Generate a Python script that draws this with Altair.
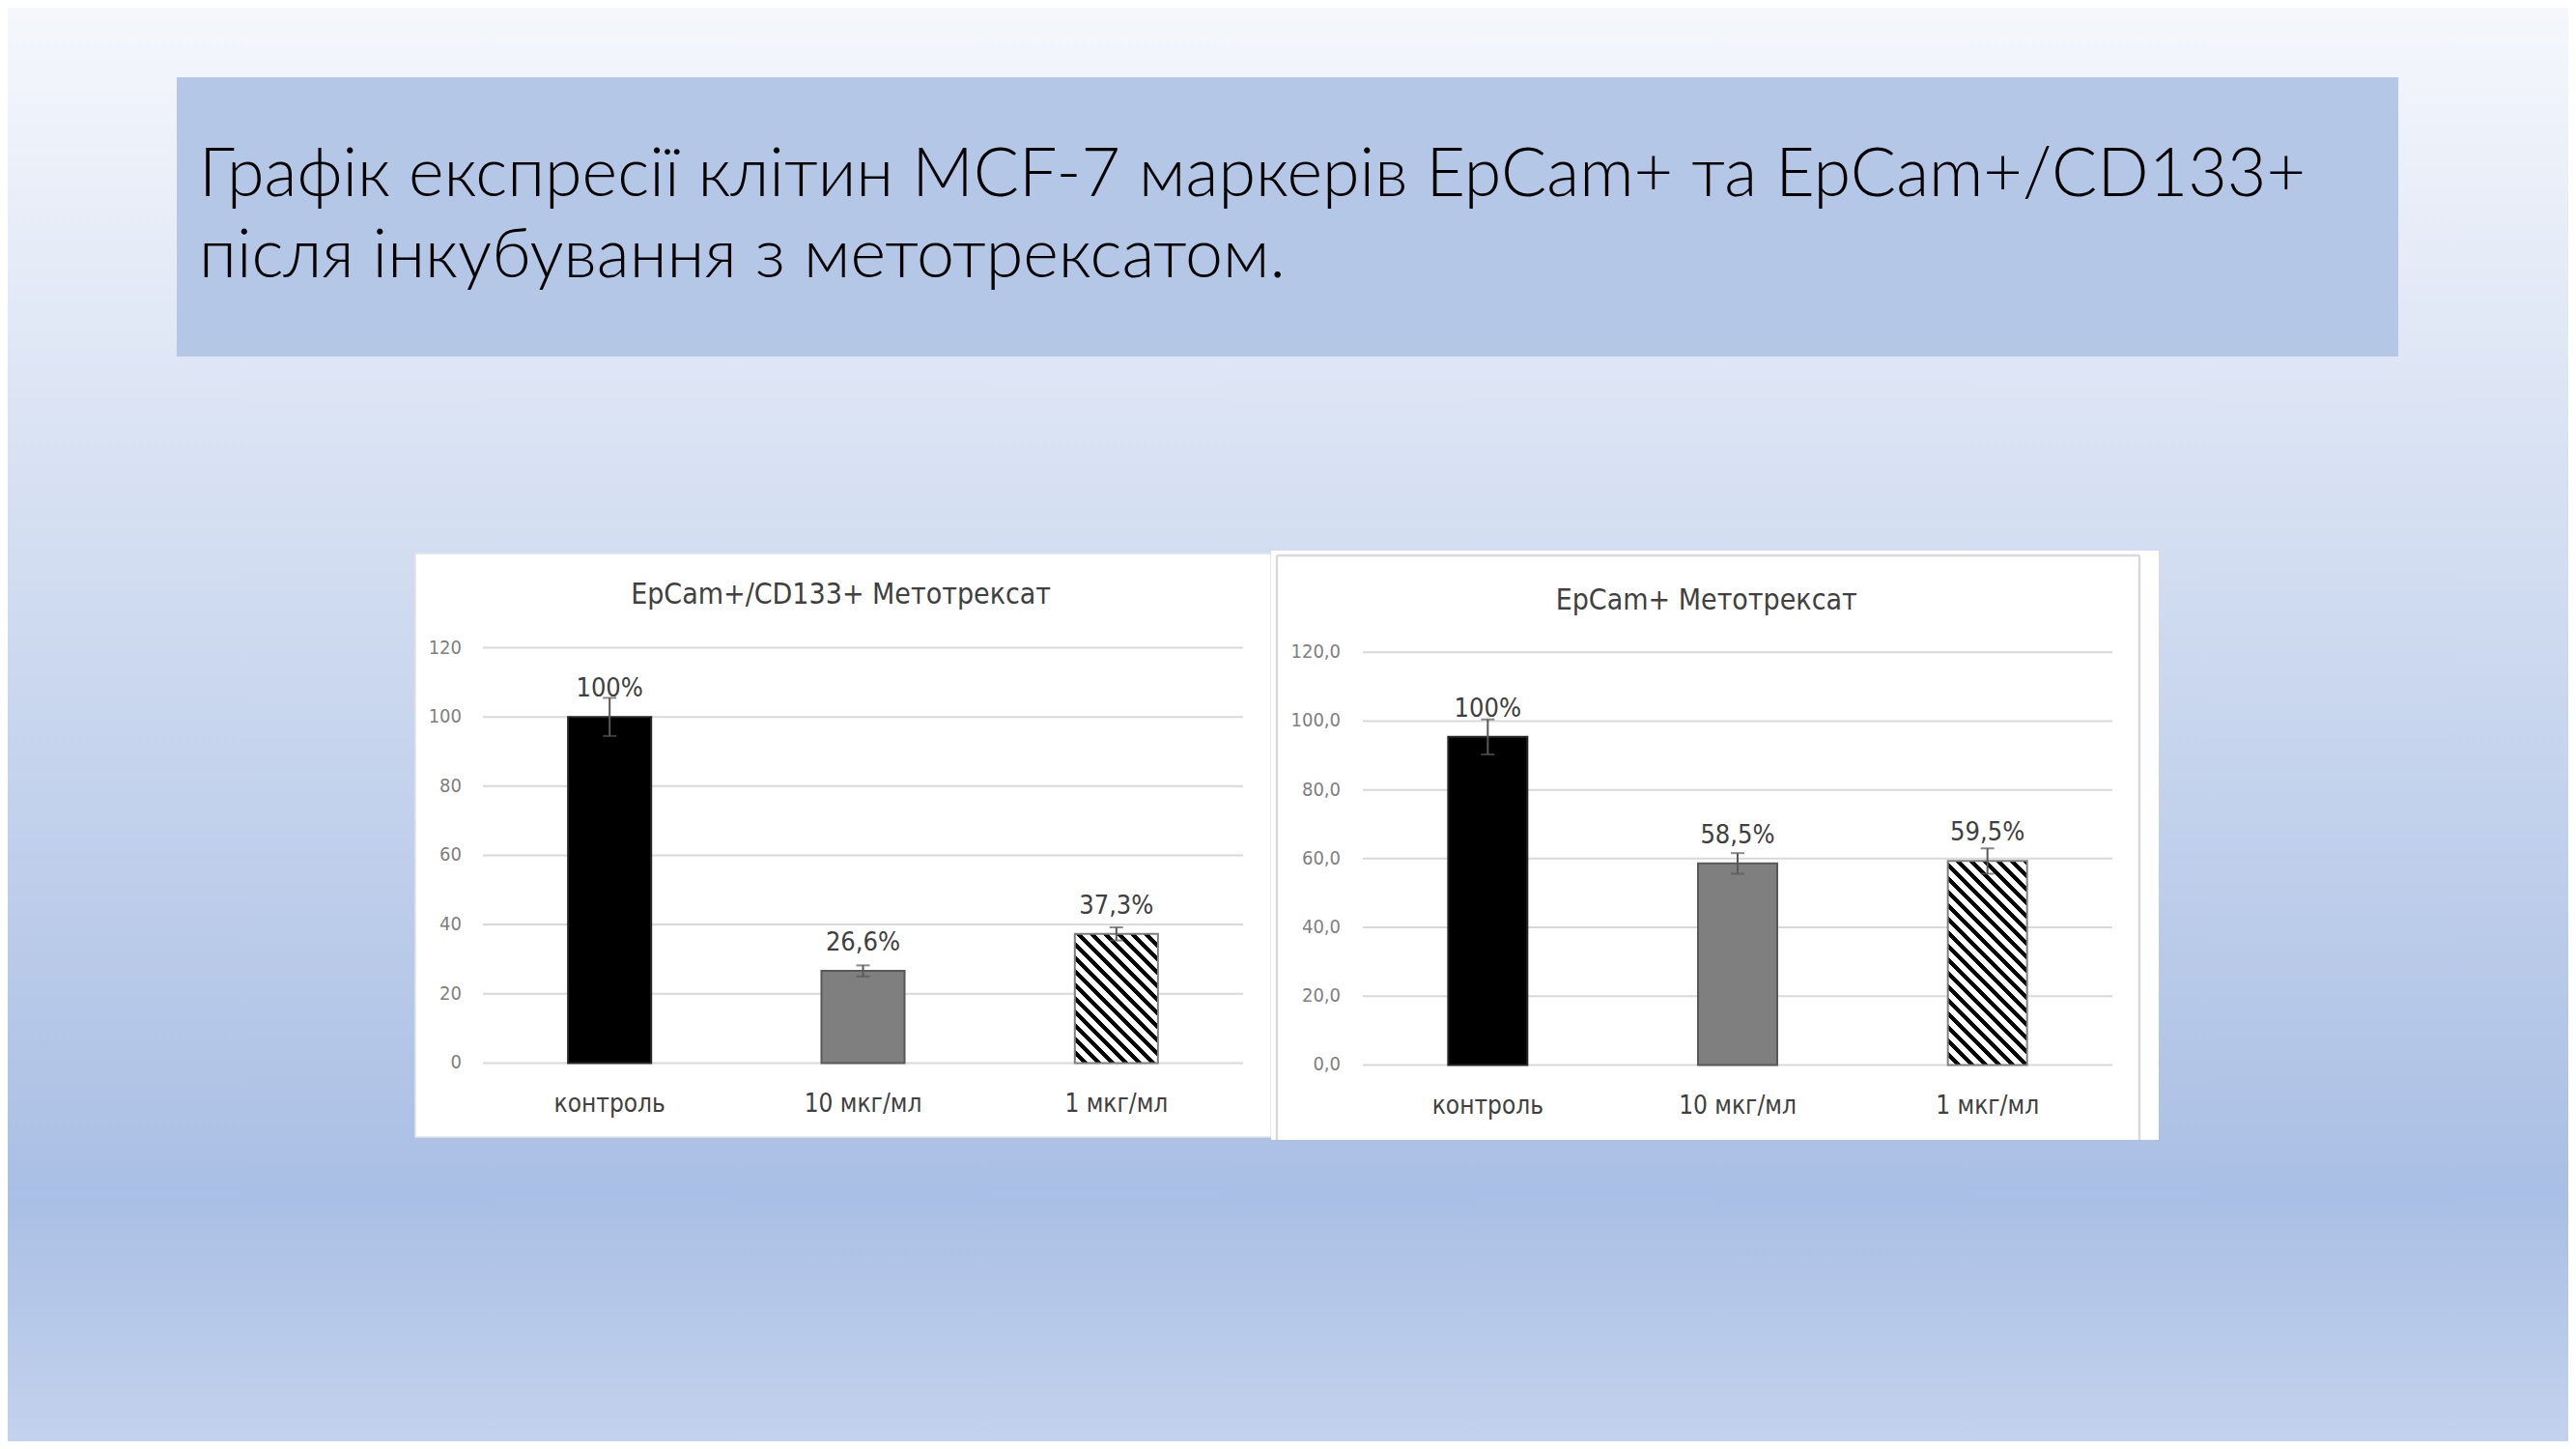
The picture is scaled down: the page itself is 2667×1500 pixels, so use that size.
import math
import pandas as pd
import altair as alt

# ---------------- data ----------------
TITLE_LINES = [
    "Графік експресії клітин MCF-7 маркерів EpCam+ та EpCam+/CD133+",
    "після інкубування з метотрексатом.",
]
CATEGORIES = ["контроль", "10 мкг/мл", "1 мкг/мл"]

LEFT_TITLE = "EpCam+/CD133+ Метотрексат"
LEFT_VALUES = [100.0, 26.6, 37.3]
LEFT_ERRORS = [5.5, 1.6, 1.9]
LEFT_LABELS = ["100%", "26,6%", "37,3%"]

RIGHT_TITLE = "EpCam+ Метотрексат"
RIGHT_VALUES = [95.4, 58.6, 59.3]
RIGHT_ERRORS = [5.1, 3.0, 3.7]
RIGHT_LABELS = ["100%", "58,5%", "59,5%"]

Y_TICKS = [0, 20, 40, 60, 80, 100, 120]
LEFT_TICK_LABELS = ["0", "20", "40", "60", "80", "100", "120"]
RIGHT_TICK_LABELS = ["0,0", "20,0", "40,0", "60,0", "80,0", "100,0", "120,0"]

# ---------------- style / layout ----------------
W, H = 2651, 1484
NARROW = "Liberation Sans Narrow, Arial Narrow, DejaVu Sans Condensed, Liberation Sans, sans-serif"
TITLE_FONT = "Lato, Open Sans, sans-serif"
one = pd.DataFrame({"k": [0]})


def hatch(w, h, period=9.9, black=0.42):
    c = (w + h) / (w * w + h * h)
    x2, y2 = c * w, 1 - c * h
    n = (w + h) / math.sqrt(2) / period
    stops = []
    j = 0
    while j / n < 1:
        a = j / n
        b = min((j + 1 - black) / n, 1)
        e = min((j + 1) / n, 1)
        stops += [
            alt.GradientStop(color="#ffffff", offset=a),
            alt.GradientStop(color="#ffffff", offset=b),
            alt.GradientStop(color="#000000", offset=b),
            alt.GradientStop(color="#000000", offset=e),
        ]
        j += 1
    return alt.LinearGradient(gradient="linear", stops=stops, x1=0, y1=1, x2=x2, y2=y2)


def panel(title, values, errors, labels, tick_labels, x_range, y_range,
          pad_inner, tick_label_x, title_xy, xlabel_y):
    df = pd.DataFrame({
        "cat": CATEGORIES,
        "value": values,
        "lo": [v - e for v, e in zip(values, errors)],
        "hi": [v + e for v, e in zip(values, errors)],
        "label": labels,
    })
    ticks = pd.DataFrame({"tick": Y_TICKS, "tlabel": tick_labels})
    xs = alt.Scale(domain=CATEGORIES, range=x_range,
                   paddingInner=pad_inner, paddingOuter=pad_inner / 2)
    ys = alt.Scale(domain=[0, 120], range=y_range, nice=False)
    X = alt.X("cat:N", scale=xs, axis=None, sort=CATEGORIES)

    grid = alt.Chart(ticks).mark_rule(color="#d9d9d9", strokeWidth=2).encode(
        y=alt.Y("tick:Q", scale=ys, axis=None),
        x=alt.value(x_range[0]), x2=alt.value(x_range[1]))
    ylab = alt.Chart(ticks).mark_text(
        align="right", baseline="middle", font=NARROW, fontSize=20, color="#808080"
    ).encode(y=alt.Y("tick:Q", scale=ys, axis=None), x=alt.value(tick_label_x),
             text="tlabel:N")

    base = alt.Chart(df)
    step = (x_range[1] - x_range[0]) / 3
    bw = step * (1 - pad_inner)
    ppu = (y_range[0] - y_range[1]) / 120.0

    b0 = base.transform_filter(alt.datum.cat == CATEGORIES[0]).mark_bar(
        fill="#000000", stroke="#262626", strokeWidth=2
    ).encode(x=X, y=alt.Y("value:Q", scale=ys, axis=None))
    b1 = base.transform_filter(alt.datum.cat == CATEGORIES[1]).mark_bar(
        fill="#7f7f7f", stroke="#595959", strokeWidth=2
    ).encode(x=X, y=alt.Y("value:Q", scale=ys, axis=None))
    b2 = base.transform_filter(alt.datum.cat == CATEGORIES[2]).mark_bar(
        fill=hatch(bw, values[2] * ppu), stroke="#7f7f7f", strokeWidth=2
    ).encode(x=X, y=alt.Y("value:Q", scale=ys, axis=None))

    err = base.mark_rule(color="#595959", strokeWidth=2).encode(
        x=X, y=alt.Y("lo:Q", scale=ys, axis=None), y2="hi:Q")
    caps = base.transform_fold(["lo", "hi"], as_=["end", "pos"]).mark_tick(
        color="#595959", thickness=2, size=14
    ).encode(x=X, y=alt.Y("pos:Q", scale=ys, axis=None))

    lab = base.mark_text(
        dy=-29, baseline="middle", font=NARROW, fontSize=27, color="#404040"
    ).encode(x=X, y=alt.Y("value:Q", scale=ys, axis=None), text="label:N")
    xlab = base.mark_text(
        baseline="middle", font=NARROW, fontSize=26, color="#404040"
    ).encode(x=X, y=alt.value(xlabel_y), text="cat:N")
    ttl = alt.Chart(one).mark_text(
        text=title, baseline="middle", font=NARROW, fontSize=30, color="#404040"
    ).encode(x=alt.value(title_xy[0]), y=alt.value(title_xy[1]))

    return alt.layer(grid, ylab, b0, b1, b2, err, caps, lab, xlab, ttl)


bg = alt.Chart(one).mark_rect(
    fill=alt.LinearGradient(
        gradient="linear", x1=0, y1=0, x2=0, y2=1,
        stops=[
            alt.GradientStop(color="#f5f7fc", offset=0),
            alt.GradientStop(color="#b2c5e7", offset=0.74),
            alt.GradientStop(color="#aabfe5", offset=0.83),
            alt.GradientStop(color="#c3d2ed", offset=1),
        ])
).encode(x=alt.value(0), x2=alt.value(W), y=alt.value(0), y2=alt.value(H))

banner = alt.Chart(one).mark_rect(fill="#b4c7e7").encode(
    x=alt.value(175), x2=alt.value(2475), y=alt.value(72), y2=alt.value(361))

title = alt.Chart(one).mark_text(
    text=TITLE_LINES, align="left", baseline="alphabetic", lineHeight=84,
    font=TITLE_FONT, fontWeight=300, fontSize=70, color="#000000"
).encode(x=alt.value(198), y=alt.value(195))

left_box = alt.Chart(one).mark_rect(fill="#ffffff", stroke="#e3e3e3", strokeWidth=1.5).encode(
    x=alt.value(422), x2=alt.value(1308), y=alt.value(565), y2=alt.value(1169))
right_box = alt.Chart(one).mark_rect(fill="#ffffff").encode(
    x=alt.value(1308), x2=alt.value(2227), y=alt.value(562), y2=alt.value(1172))
border_df = pd.DataFrame({"x": [1314, 1314, 2207], "x2": [1314, 2207, 2207],
                          "y": [567, 567, 567], "y2": [1172, 567, 1172]})
right_border = alt.Chart(border_df).mark_rule(color="#d9d9d9", strokeWidth=2.5).encode(
    x=alt.X("x:Q", scale=None), x2="x2:Q", y=alt.Y("y:Q", scale=None), y2="y2:Q")

left = panel(LEFT_TITLE, LEFT_VALUES, LEFT_ERRORS, LEFT_LABELS, LEFT_TICK_LABELS,
             [492, 1279], [1092.4, 662.5], 0.672, 470, (862.6, 608), 1135)
right = panel(RIGHT_TITLE, RIGHT_VALUES, RIGHT_ERRORS, RIGHT_LABELS, RIGHT_TICK_LABELS,
              [1403, 2179], [1094.4, 667.3], 0.683, 1380, (1758.7, 614), 1136.6)

chart = alt.layer(bg, banner, title, left_box, right_box, right_border, left, right).resolve_scale(
    x="independent", y="independent"
).properties(
    width=W, height=H, padding=0, autosize=alt.AutoSizeParams(type="none"),
    background="#ffffff"
).configure_view(stroke=None)

chart.save("out.html", embed_options={"renderer": "svg", "actions": False})
